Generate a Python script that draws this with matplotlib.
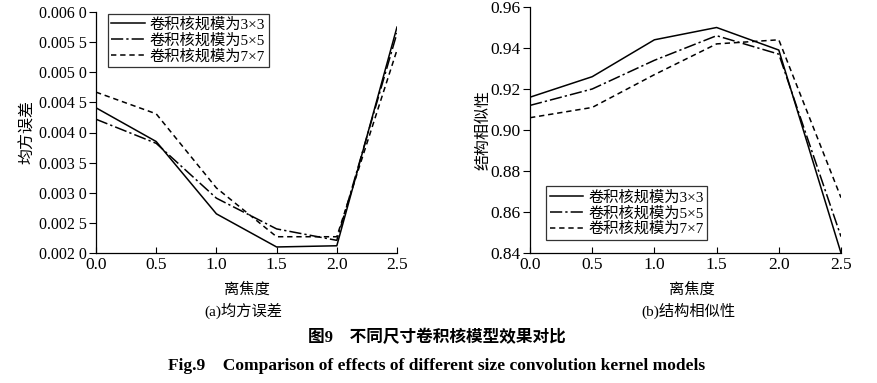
import matplotlib
matplotlib.use("Agg")
import matplotlib.pyplot as plt

plt.rcParams['font.family'] = ['Liberation Serif', 'Noto Sans CJK SC']
plt.rcParams['axes.unicode_minus'] = False

defocus = [0.0, 0.5, 1.0, 1.5, 2.0, 2.5]
series_names = ['卷积核规模为3×3', '卷积核规模为5×5', '卷积核规模为7×7']

mse_3 = [0.00441, 0.00385, 0.00265, 0.00210, 0.00212, 0.00575]
mse_5 = [0.00422, 0.00382, 0.00291, 0.00240, 0.00221, 0.00565]
mse_7 = [0.00467, 0.00431, 0.00308, 0.00227, 0.00227, 0.00537]

ssim_3 = [0.916, 0.926, 0.944, 0.950, 0.939, 0.840]
ssim_5 = [0.912, 0.920, 0.934, 0.946, 0.937, 0.848]
ssim_7 = [0.906, 0.911, 0.927, 0.942, 0.944, 0.867]

mse_ticks = [0.0020, 0.0025, 0.0030, 0.0035, 0.0040, 0.0045, 0.0050, 0.0055, 0.0060]
mse_ticklabels = ['0.002 0', '0.002 5', '0.003 0', '0.003 5', '0.004 0',
                  '0.004 5', '0.005 0', '0.005 5', '0.006 0']
ssim_ticks = [0.84, 0.86, 0.88, 0.90, 0.92, 0.94, 0.96]
ssim_ticklabels = ['0.84', '0.86', '0.88', '0.90', '0.92', '0.94', '0.96']
x_ticks = [0.0, 0.5, 1.0, 1.5, 2.0, 2.5]
x_ticklabels = ['0.0', '0.5', '1.0', '1.5', '2.0', '2.5']

styles = ['-', (0, (8, 2, 1.5, 2)), (0, (3.5, 2.5))]

fig = plt.figure(figsize=(8.78, 3.83), dpi=100)
ax1 = fig.add_axes([96/878, 1-253/383, (397-96)/878, (253-12)/383])
ax2 = fig.add_axes([530/878, 1-253/383, (841-530)/878, (253-7)/383])

def style_ax(ax, yfs):
    for s in ['top', 'right']:
        ax.spines[s].set_visible(False)
    for s in ['left', 'bottom']:
        ax.spines[s].set_linewidth(0.9)
    ax.tick_params(axis='x', direction='in', length=4, width=0.8, labelsize=12.5, pad=3)
    ax.tick_params(axis='y', direction='out', length=5, width=0.8, labelsize=yfs, pad=1.5)

for ax, data, yt, ytl, ylim, yfs in [
        (ax1, [mse_3, mse_5, mse_7], mse_ticks, mse_ticklabels, (0.002, 0.006), 11.5),
        (ax2, [ssim_3, ssim_5, ssim_7], ssim_ticks, ssim_ticklabels, (0.84, 0.96), 12.5)]:
    for vals, ls, name in zip(data, styles, series_names):
        ax.plot(defocus, vals, color='black', linestyle=ls, linewidth=1.1, label=name)
    ax.set_xlim(0, 2.5)
    ax.set_ylim(*ylim)
    ax.set_xticks(x_ticks)
    ax.set_xticklabels(x_ticklabels)
    ax.set_yticks(yt)
    ax.set_yticklabels(ytl)
    style_ax(ax, yfs)

ax1.set_ylabel('均方误差', fontsize=11.5)
ax1.yaxis.set_label_coords((36-96)/301, 0.5)
ax2.set_ylabel('结构相似性', fontsize=11.5)
ax2.yaxis.set_label_coords((491-530)/311, 0.5)

leg_kw = dict(fontsize=11, frameon=True, fancybox=False, edgecolor='black',
              handlelength=2.2, handletextpad=0.3, borderpad=0.25, labelspacing=0.1)
leg1 = ax1.legend(loc='upper left', bbox_to_anchor=(10/301, 1.0), borderaxespad=0.1, **leg_kw)
leg1.get_frame().set_linewidth(0.9)
leg2 = ax2.legend(loc='lower left', bbox_to_anchor=(16/311, 13/246), borderaxespad=0.0, **leg_kw)
leg2.get_frame().set_linewidth(0.9)

fig.text(247/878, 1-290/383, '离焦度', ha='center', va='center', fontsize=11)
fig.text(243/878, 1-311/383, '(a)均方误差', ha='center', va='center', fontsize=11)
fig.text(692/878, 1-290/383, '离焦度', ha='center', va='center', fontsize=11)
fig.text(688/878, 1-311/383, '(b)结构相似性', ha='center', va='center', fontsize=11)
fig.text(437/878, 1-338/383, '图9　不同尺寸卷积核模型效果对比', ha='center', va='center',
         fontsize=12, fontweight='bold')
fig.text(437/878, 1-366/383, 'Fig.9    Comparison of effects of different size convolution kernel models',
         ha='center', va='center', fontsize=12.5, fontweight='bold')

fig.savefig('out.png', dpi=100)
